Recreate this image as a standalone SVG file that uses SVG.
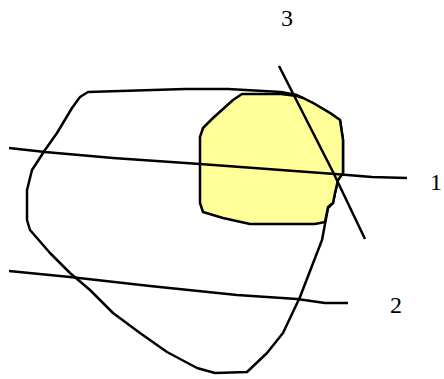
<svg xmlns="http://www.w3.org/2000/svg" width="444" height="379" viewBox="0 0 444 379">
<style>
.ln{fill:none;stroke:#000;stroke-width:2.5;stroke-linejoin:round;stroke-linecap:butt}
.lbl{font-family:"Liberation Serif","Times New Roman",serif;font-size:24px;fill:#000;text-anchor:middle}
</style>
<rect width="444" height="379" fill="#fff"/>
<g id="outline">
<polygon class="ln" points="88,92 185,89 228,89 281,92 297,95 303,98 313,103 330,113 340,120 343,140 343,173 338,180 335,193 333,203 328,208 322,240 300,297 283,333 267,353 247,372 215,373 197,368 167,352 140,333 113,313 90,290 70,273 50,253 30,230 27,220 27,190 32,170 45,150 57,133 72,108 80,97"/>
</g>
<g id="yellow">
<polygon class="ln" style="fill:#ffff99" points="242,94 281,94 297,96 303,98 313,103 330,113 340,120 343,140 343,173 338,180 335,193 333,203 328,207 325,222 315,224 250,224 223,218 203,212 200,203 200,137 203,128 213,118 233,100"/>
</g>
<g id="connectors">
<polyline id="line1" class="ln" points="9,148 45,152 113,158 200,164 335,174 372,177 407,178"/>
<polyline id="line2" class="ln" points="9,271 70,277 150,286 237,295 297,299 325,303 348,303"/>
<polyline id="line3" class="ln" points="279,66 333,172 365,239"/>
</g>
<g id="labels">
<text class="lbl" x="287" y="26">3</text>
<text class="lbl" x="436" y="190">1</text>
<text class="lbl" x="396" y="313">2</text>
</g>
</svg>
